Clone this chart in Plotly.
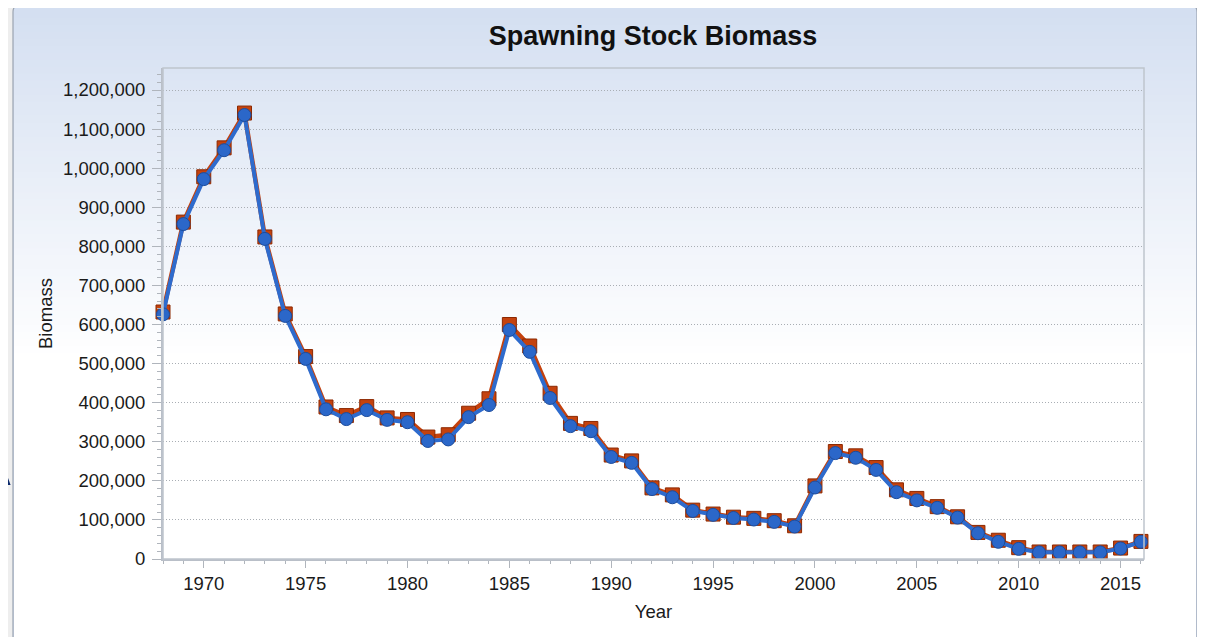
import plotly.graph_objects as go

# Spawning stock biomass (two model runs)
years = list(range(1968, 2017))
ssb_run_a = [
    632000, 862000, 978000, 1052000, 1141000, 824000, 627000, 518000, 389000, 367000,
    390000, 361000, 357000, 312000, 318000, 373000, 410000, 600000, 545000, 424000,
    347000, 334000, 266000, 251000, 182000, 164000, 125000, 115000, 107000, 104000,
    98000, 85000, 187000, 275000, 264000, 234000, 177000, 155000, 134000, 108000,
    68000, 48000, 29000, 18000, 18000, 18000, 18000, 28000, 45000,
]
ssb_run_b = [
    626000, 857000, 972000, 1046000, 1136000, 819000, 622000, 512000, 383000, 358000,
    381000, 356000, 350000, 302000, 306000, 363000, 394000, 586000, 530000, 412000,
    340000, 327000, 261000, 246000, 179000, 158000, 123000, 113000, 105000, 101000,
    95000, 83000, 183000, 271000, 259000, 228000, 171000, 150000, 131000, 106000,
    66000, 44000, 26000, 17000, 17000, 17000, 17000, 27000, 44000,
]

W, H = 1205, 637
OFF = 8  # the page puts the figure 8px in from the top-left corner
L, R, T, B = 163, 1144, 68, 559  # plot area, in screen pixels
FONT = "Liberation Sans, Arial, sans-serif"


def px(x):
    return (x - L) / (R - L)


def py(y):
    return (B - y) / (B - T)


def hexmix(c0, c1, t):
    return "#%02x%02x%02x" % tuple(round(a + (b - a) * t) for a, b in zip(c0, c1))


shapes = []

# rounded panel behind the chart
x0, x1, y0, y1, r = 13, 1197, 5, 660, 7
panel_path = (
    f"M {px(x0)},{py(y0 + r)} "
    f"Q {px(x0)},{py(y0)} {px(x0 + r)},{py(y0)} "
    f"L {px(x1 - r)},{py(y0)} "
    f"Q {px(x1)},{py(y0)} {px(x1)},{py(y0 + r)} "
    f"L {px(x1)},{py(y1)} L {px(x0)},{py(y1)} Z"
)
top_col, bot_col = (212, 223, 241), (255, 255, 255)
shapes.append(dict(type="path", path=panel_path, xref="paper", yref="paper",
                   fillcolor=hexmix(top_col, bot_col, 0), line=dict(width=0), layer="below"))

# vertical gradient made of thin bands
g_top, g_bot, n = 11, 360, 50
for i in range(n):
    ya = g_top + (g_bot - g_top) * i / n
    yb = g_top + (g_bot - g_top) * (i + 1) / n + 1
    shapes.append(dict(type="rect", xref="paper", yref="paper",
                       x0=px(x0 + 1), x1=px(x1 - 1), y0=py(yb), y1=py(ya),
                       fillcolor=hexmix(top_col, bot_col, (i + 0.5) / n),
                       line=dict(width=0), layer="below"))
shapes.append(dict(type="rect", xref="paper", yref="paper",
                   x0=px(x0 + 1), x1=px(x1 - 1), y0=py(y1), y1=py(g_bot),
                   fillcolor="#ffffff", line=dict(width=0), layer="below"))

# panel outline and right-hand shadow
shapes.append(dict(type="path", path=panel_path, xref="paper", yref="paper",
                   line=dict(color="#9ba4b1", width=1.2), layer="below"))
shapes.append(dict(type="rect", xref="paper", yref="paper",
                   x0=px(1201), x1=px(1215), y0=py(660), y1=py(8),
                   fillcolor="#f6f6f6", line=dict(width=0), layer="below"))
shapes.append(dict(type="line", xref="paper", yref="paper",
                   x0=px(1199), x1=px(1199), y0=py(660), y1=py(12),
                   line=dict(color="#6f7377", width=3), layer="below"))

# plot frame
shapes.append(dict(type="rect", xref="paper", yref="paper", x0=0, x1=1, y0=0, y1=1,
                   line=dict(color="#bfc5cd", width=1.5), layer="above"))

fig = go.Figure()
fig.add_trace(go.Scatter(
    x=years, y=ssb_run_a, mode="lines+markers", name="Run A",
    line=dict(color="#c4420e", width=4.5),
    marker=dict(symbol="square", size=14, color="#c4420e",
                line=dict(color="#8c2800", width=1)),
    cliponaxis=False,
))
fig.add_trace(go.Scatter(
    x=years, y=ssb_run_b, mode="lines+markers", name="Run B",
    line=dict(color="#2e6bcd", width=4),
    marker=dict(symbol="circle", size=13, color="#2b67c9",
                line=dict(color="#1c4c9c", width=1)),
    cliponaxis=False,
))

fig.update_layout(
    width=W, height=H,
    margin=dict(l=L - OFF, r=W - (R - OFF), t=T - OFF, b=H - (B - OFF), pad=0),
    paper_bgcolor="#eeeeee",
    plot_bgcolor="rgba(0,0,0,0)",
    showlegend=False,
    font=dict(family=FONT, size=18.5, color="#1a1a1a"),
    title=dict(text="<b>Spawning Stock Biomass</b>", xref="paper", x=px(653),
               xanchor="center", y=1 - (36 - OFF) / H, yanchor="middle",
               font=dict(size=27, color="#111111")),
    shapes=shapes,
    # fragment of a slide letter peeking out at the left edge
    annotations=[dict(text="<b>A</b>", xref="paper", yref="paper", x=px(14), y=py(466),
                      xanchor="right", yanchor="middle", showarrow=False,
                      font=dict(size=54, color="#0c2a6c", family=FONT))],
)

fig.update_xaxes(
    range=[1968, 2016.15], tick0=1970, dtick=5,
    showgrid=False, zeroline=False,
    showline=True, linecolor="#b9bfc8", linewidth=2,
    ticks="outside", ticklen=7, tickcolor="#b0b5bc", tickwidth=1,
    minor=dict(dtick=1, ticks="outside", ticklen=3, tickcolor="#b0b5bc", showgrid=False),
    ticklabelstandoff=0,
    title=dict(text="Year", standoff=12, font=dict(size=18.5)),
)
fig.update_yaxes(
    range=[0, 1256300], dtick=100000, tickformat=",d",
    showgrid=True, gridcolor="#a9aeb4", gridwidth=1, griddash="1px,2px",
    zeroline=False,
    showline=True, linecolor="#b9bfc8", linewidth=2,
    ticks="outside", ticklen=9, tickcolor="#b0b5bc", tickwidth=1,
    minor=dict(dtick=20000, ticks="outside", ticklen=4, tickcolor="#b0b5bc", showgrid=False),
    ticklabelstandoff=3,
    title=dict(text="Biomass", standoff=6, font=dict(size=18.5)),
)

fig.write_html("out.html")
